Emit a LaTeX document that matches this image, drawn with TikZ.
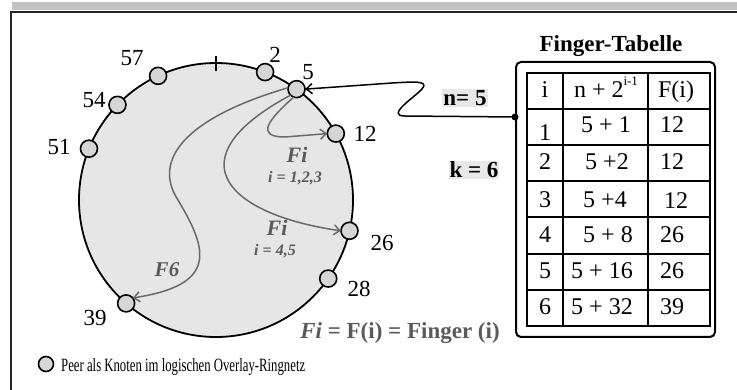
\documentclass[tikz,border=0pt]{standalone}
\usepackage{fontspec}
\setmainfont{Liberation Serif}
\usetikzlibrary{arrows.meta,calc}
\definecolor{ringfill}{HTML}{E6E6E6}
\definecolor{peerfill}{HTML}{D6D6D6}
\definecolor{fing}{HTML}{6A6A6A}
\definecolor{lbl}{HTML}{5A5A5A}
\definecolor{band}{HTML}{C2C2C2}
\definecolor{tagbg}{HTML}{E8E8E8}
\begin{document}
\begin{tikzpicture}[x=1pt,y=-1pt,
  peer/.style={circle,draw=black,line width=1.6pt,fill=peerfill,minimum size=17pt,inner sep=0pt,outer sep=0pt},
  num/.style={font=\fontsize{23}{23}\selectfont,inner sep=0pt},
  finger/.style={draw=fing,line width=1.5pt,-{Straight Barb[length=6pt,width=10pt]}},
  flabel/.style={text=lbl,font=\bfseries\itshape\fontsize{22}{22}\selectfont,inner sep=0pt},
  ilabel/.style={text=lbl,font=\bfseries\itshape\fontsize{16}{16}\selectfont,inner sep=0pt},
  tag/.style={fill=tagbg,font=\bfseries\fontsize{23}{23}\selectfont,inner sep=1pt},
  cell/.style={font=\fontsize{24}{24}\selectfont,inner sep=0pt,anchor=base},
  tline/.style={line width=1.5pt},
]
\useasboundingbox (0,0) rectangle (737,390);
\fill[white] (0,0) rectangle (737,390);
\fill[band] (12,2) rectangle (737,10);
\draw[line width=2.5pt,color=black!85] (11,390) -- (11,12) -- (737,12);

% ring
\node[circle,draw,line width=1.8pt,fill=ringfill,minimum size=274pt,inner sep=0pt,outer sep=0pt] (ring) at (216,200) {};
\draw[line width=2pt] ($(ring.north)+(0,-7)$) -- ($(ring.north)+(0,8)$);

\node[peer] (p57) at (ring.115) {};
\node[peer] (p2) at (ring.69) {};
\node[peer] (p5) at (ring.54) {};
\node[peer] (p54) at (ring.136.5) {};
\node[peer] (p51) at (ring.158) {};
\node[peer] (p12) at (ring.29) {};
\node[peer] (p26) at (ring.-13) {};
\node[peer] (p28) at (ring.-35.5) {};
\node[peer] (p39) at (ring.-131) {};

\node[num] (l57) at (132,58) {57};
\node[num] (l2) at (275,55) {2};
\node[num] (l5) at (308,72) {5};
\node[num] (l54) at (94,100) {54};
\node[num] (l51) at (59,147) {51};
\node[num] (l12) at (365,134) {12};
\node[num] (l26) at (382,243) {26};
\node[num] (l28) at (359,289) {28};
\node[num] (l39) at (95,318) {39};

% finger arrows
\draw[finger] (p5.-110) .. controls (268,120) and (255,137) .. (285,137) -- (p12.west);
\draw[finger] (p5.-135) .. controls (170,160) and (230,215) .. (p26.west);
\draw[finger] (p5.170) .. controls (185,118) and (152,160) .. (178,200) .. controls (208,250) and (218,285) .. (p39.40);

\node[flabel] (fi1) at (297,155) {Fi};
\node[ilabel] (i1) at (295,178) {i = 1,2,3};
\node[flabel] (fi2) at (277,228) {Fi};
\node[ilabel] (i2) at (275,251) {i = 4,5};
\node[flabel,font=\bfseries\itshape\fontsize{21}{21}\selectfont] (f6) at (167,270) {F6};
\node[text=lbl,font=\bfseries\fontsize{23}{23}\selectfont,inner sep=0pt] (def) at (400,333) {\textit{Fi} = F(i) = Finger (i)};

% table
\node[font=\bfseries\fontsize{23}{23}\selectfont,inner sep=0pt] (title) at (611,46) {Finger-Tabelle};
\node[draw,rounded corners=5pt,line width=2pt,minimum width=199pt,minimum height=275pt,inner sep=0pt] (box) at (615.5,199.5) {};
\draw[line width=2pt] (527,73) rectangle (710,326);
\draw[tline] (563,73) -- (563,326) (648,73) -- (648,326);
\foreach \y in {109,145,181,217,254,290} \draw[tline] (527,\y) -- (710,\y);

\node[cell] (h1) at (545,98) {i};
\node[cell] (h2) at (606,98) {n + 2\raisebox{0.5em}{\fontsize{13}{13}\selectfont i-1}};
\node[cell] (h3) at (676,98) {F(i)};
\node[cell] (a1) at (545,141) {1};
\node[cell] (b1) at (606,133) {5 + 1};
\node[cell] (c1) at (672,133) {12};
\node[cell] (a2) at (545,170) {2};
\node[cell] (b2) at (607,170) {5 +2};
\node[cell] (c2) at (672,170) {12};
\node[cell] (a3) at (545,208) {3};
\node[cell] (b3) at (605,208) {5 +4};
\node[cell] (c3) at (676,209) {12};
\node[cell] (a4) at (545,243) {4};
\node[cell] (b4) at (608,243) {5 + 8};
\node[cell] (c4) at (672,243) {26};
\node[cell] (a5) at (545,279) {5};
\node[cell] (b5) at (602,279) {5 + 16};
\node[cell] (c5) at (672,279) {26};
\node[cell] (a6) at (545,315) {6};
\node[cell] (b6) at (602,315) {5 + 32};
\node[cell] (c6) at (672,315) {39};

\node[tag] (n) at (465,98) {n= 5};
\node[tag] (k) at (474,170) {k = 6};

% connector from table to node 5
\node[circle,fill,inner sep=0pt,minimum size=7pt] (dot) at (box.west |- 0,117) {};
\draw[line width=1.5pt,-{Straight Barb[length=6pt,width=10pt]}] (dot.center) -- (405,116) .. controls (385,116) and (415,97) .. (422,89) .. controls (430,80) and (412,82) .. (392,83) -- (p5.east);

% legend
\node[peer,minimum size=15pt] (lg) at (46,364) {};
\node[anchor=base west,inner sep=0pt] (lgt) at (61,371) {\resizebox{244pt}{13pt}{\fontsize{19}{19}\selectfont Peer als Knoten im logischen Overlay-Ringnetz}};
\end{tikzpicture}
\end{document}
